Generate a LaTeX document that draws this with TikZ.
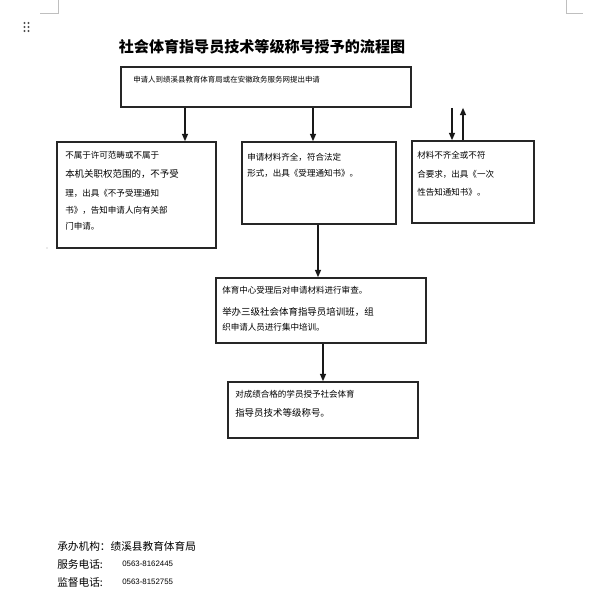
\documentclass[tikz,border=0pt]{standalone}
\usepackage{fontspec}
\newfontfamily\cjk{Noto Sans CJK SC}
\newfontfamily\lat{Liberation Sans}
\usetikzlibrary{arrows.meta,fit}
\begin{document}
\begin{tikzpicture}[x=0.75pt,y=-0.75pt,
  flowbox/.style={draw=black!85,line width=1.2pt,inner sep=0pt,rectangle},
  arr/.style={draw=black!90,line width=1pt,-{Triangle[length=5.5pt,width=4.5pt]}},
  txs/.style={font=\cjk\fontsize{6.4}{7}\selectfont,inner sep=0pt,anchor=west},
  txl/.style={font=\cjk\fontsize{7.1}{8}\selectfont,inner sep=0pt,anchor=west},
  txt/.style={font=\cjk\fontsize{5.6}{6}\selectfont,inner sep=0pt,anchor=west},
  foot/.style={font=\cjk\fontsize{8}{9}\selectfont,inner sep=0pt,anchor=west},
  phone/.style={font=\lat\fontsize{5.9}{7}\selectfont,inner sep=0pt,anchor=west},
  cornermark/.style={draw=black!25,line width=0.5pt}]
\useasboundingbox (0,0) rectangle (600,605);
\fill[white] (0,0) rectangle (600,605);
% page corner marks
\draw[cornermark] (58,0) -- (58,13) -- (40,13);
\draw[cornermark] (566,0) -- (566,13) -- (583,13);
% drag handle
\foreach \xx in {24.5,28.5}{\foreach \yy in {23,27,31}{\fill[black!70] (\xx,\yy) circle (0.9pt);}}
\fill[black!35] (47,248) circle (0.5pt);
% title
\node[font=\cjk\bfseries\fontsize{11.3}{13}\selectfont,inner sep=0pt] (title) at (262,47) {社会体育指导员技术等级称号授予的流程图};
% boxes
\node[flowbox,fit={(121,67) (411,107)}] (b1) {};
\node[flowbox,fit={(57,142) (216,248)}] (b2) {};
\node[flowbox,fit={(242,142) (396,224)}] (b3) {};
\node[flowbox,fit={(412,141) (534,223)}] (b4) {};
\node[flowbox,fit={(216,278) (426,343)}] (b5) {};
\node[flowbox,fit={(228,382) (418,438)}] (b6) {};
% texts
\node[txt] (t1) at (133,80) {申请人到绩溪县教育体育局或在安徽政务服务网提出申请};
\node[txs] (t21) at (65,155) {不属于许可范畴或不属于};
\node[txl] (t22) at (65,174) {本机关职权范围的，不予受};
\node[txs] (t23) at (65,193) {理，出具《不予受理通知};
\node[txs] (t24) at (65,210) {书》，告知申请人向有关部};
\node[txs] (t25) at (65,226) {门申请。};
\node[txs] (t31) at (247,157) {申请材料齐全，符合法定};
\node[txs] (t32) at (247,173) {形式，出具《受理通知书》。};
\node[txs] (t41) at (417,155) {材料不齐全或不符};
\node[txs] (t42) at (417,174) {合要求，出具《一次};
\node[txs] (t43) at (417,192) {性告知通知书》。};
\node[txs] (t51) at (222,290) {体育中心受理后对申请材料进行审查。};
\node[txl] (t52) at (222,312) {举办三级社会体育指导员培训班，组};
\node[txs] (t53) at (222,327) {织申请人员进行集中培训。};
\node[txs] (t61) at (235,394) {对成绩合格的学员授予社会体育};
\node[txl] (t62) at (235,413) {指导员技术等级称号。};
% footer
\node[foot] (f1) at (57,546) {承办机构：绩溪县教育体育局};
\node[foot] (f2) at (57,564) {服务电话:};
\node[phone] (p2) at (122,564) {0563-8162445};
\node[foot] (f3) at (57,582) {监督电话:};
\node[phone] (p3) at (122,582) {0563-8152755};
% connector x positions
\coordinate (xa) at (185,0);
\coordinate (xb) at (313,0);
\coordinate (xc) at (452,0);
\coordinate (xd) at (463,0);
\coordinate (xe) at (318,0);
\coordinate (xf) at (323,0);
\draw[arr] (b1.south -| xa) -- (b2.north -| xa);
\draw[arr] (b1.south -| xb) -- (b3.north -| xb);
\draw[arr] (b1.south -| xc) -- (b4.north -| xc);
\draw[arr] (b4.north -| xd) -- (b1.south -| xd);
\draw[arr] (b3.south -| xe) -- (b5.north -| xe);
\draw[arr] (b5.south -| xf) -- (b6.north -| xf);
\end{tikzpicture}
\end{document}
